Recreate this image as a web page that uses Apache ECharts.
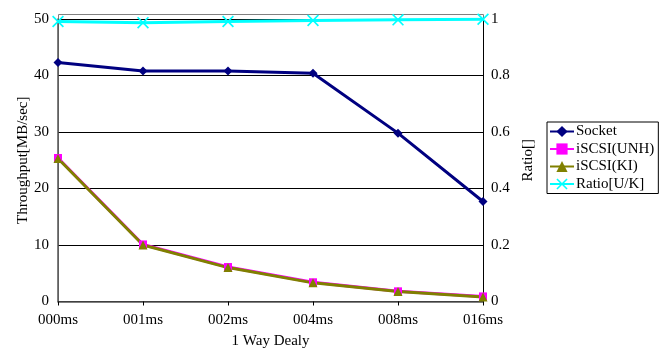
<!DOCTYPE html>
<html>
<head>
<meta charset="utf-8">
<script src="https://cdn.jsdelivr.net/npm/echarts@6/dist/echarts.min.js"></script>
<style>
html,body{margin:0;padding:0;background:#fff;}
#chart{width:665px;height:349px;}
</style>
</head>
<body>
<div id="chart"></div>
<script>
var delays=["000ms","001ms","002ms","004ms","008ms","016ms"];
var socket=[42.3,40.8,40.8,40.4,29.8,17.7];
var iscsiUNH=[25.4,10.1,6.1,3.4,1.8,0.9];
var iscsiKI=[25.3,10.0,6.0,3.3,1.75,0.8];
var ratioUK=[0.991,0.987,0.991,0.995,0.997,0.999];

var font="Liberation Serif";
var crossPath='path://M0,1L1,0L5,4L9,0L10,1L6,5L10,9L9,10L5,6L1,10L0,9L4,5Z';

var chart=echarts.init(document.getElementById("chart"));
var options={
  animation:false,
  textStyle:{fontFamily:font},
  grid:{left:58,right:182,top:19,bottom:47.5,containLabel:false,outerBoundsMode:'none'},
  graphic:[
    {type:'rect',shape:{x:58.5,y:14.5,width:425,height:287},
     style:{fill:'none',stroke:'#808080',lineWidth:1},silent:true,z:-1}
  ],
  legend:{
    orient:'vertical',left:547,top:122,
    itemWidth:24,itemHeight:14,itemGap:2.5,
    padding:[2,4,2,2],
    borderColor:'#000',borderWidth:1,
    textStyle:{fontFamily:font,fontSize:15,color:'#000',padding:[0,0,0,-3]},
    data:["Socket","iSCSI(UNH)","iSCSI(KI)","Ratio[U/K]"]
  },
  xAxis:{
    type:'category',data:delays,boundaryGap:false,
    name:'1 Way Dealy',nameLocation:'middle',nameGap:32,nameMoveOverlap:false,
    nameTextStyle:{fontFamily:font,fontSize:15,color:'#000'},
    axisLine:{lineStyle:{color:'#555',width:1.5}},
    axisTick:{alignWithLabel:true,length:4,lineStyle:{color:'#000'}},
    axisLabel:{fontFamily:font,fontSize:15,color:'#000',margin:11}
  },
  yAxis:[
    {
      type:'value',min:0,max:50,interval:10,
      name:'Throughput[MB/sec]',nameLocation:'middle',nameGap:27,nameRotate:90,nameMoveOverlap:false,
      nameTextStyle:{fontFamily:font,fontSize:15,color:'#000'},
      axisLine:{show:true,lineStyle:{color:'#555',width:1.5}},
      axisTick:{show:false},
      axisLabel:{fontFamily:font,fontSize:15,color:'#000',margin:9},
      splitLine:{lineStyle:{color:'#000',width:1}}
    },
    {
      type:'value',min:0,max:1,interval:0.2,
      name:'Ratio[]',nameLocation:'middle',nameGap:38,nameRotate:90,nameMoveOverlap:false,
      nameTextStyle:{fontFamily:font,fontSize:15,color:'#000'},
      axisLine:{show:true,lineStyle:{color:'#000',width:1}},
      axisTick:{show:false},
      axisLabel:{fontFamily:font,fontSize:15,color:'#000',margin:8},
      splitLine:{show:false}
    }
  ],
  series:[
    {
      name:"Socket",type:'line',data:socket,
      symbol:'diamond',symbolSize:9,
      itemStyle:{color:'#000080'},lineStyle:{color:'#000080',width:3}
    },
    {
      name:"iSCSI(UNH)",type:'line',data:iscsiUNH,
      symbol:'rect',symbolSize:8,
      itemStyle:{color:'#ff00ff'},lineStyle:{color:'#ff00ff',width:3}
    },
    {
      name:"iSCSI(KI)",type:'line',data:iscsiKI,
      symbol:'triangle',symbolSize:9,
      itemStyle:{color:'#808000'},lineStyle:{color:'#808000',width:3}
    },
    {
      name:"Ratio[U/K]",type:'line',data:ratioUK,yAxisIndex:1,
      symbol:crossPath,symbolSize:12,
      itemStyle:{color:'#00ffff'},lineStyle:{color:'#00ffff',width:3}
    }
  ]
};
chart.setOption(options);
</script>
</body>
</html>
